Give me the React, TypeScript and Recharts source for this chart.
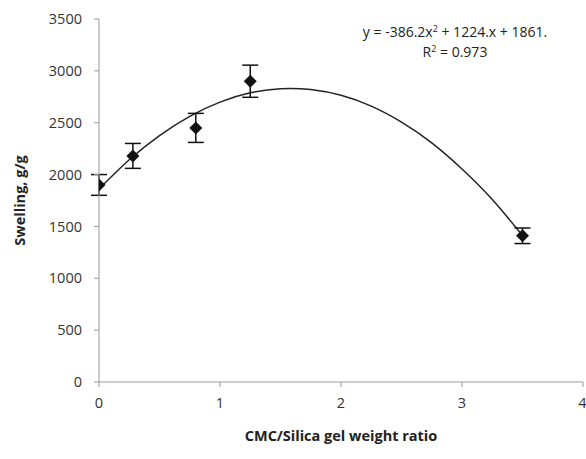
import React from 'react';
import { ComposedChart, Scatter, Line, XAxis, YAxis, ErrorBar, Label } from 'recharts';

const ratios = [0, 0.28, 0.8, 1.25, 3.5];
const swelling = [1900, 2180, 2450, 2900, 1410];
const errors = [100, 120, 140, 155, 75];

const trendX = [0, 0.25, 0.5, 0.75, 1, 1.25, 1.5, 1.75, 2, 2.25, 2.5, 2.75, 3, 3.25, 3.5];
const trendY = [1861, 2143, 2376, 2562, 2699, 2788, 2828, 2820, 2764, 2660, 2506, 2306, 2054, 1760, 1412];

const xTicks = [0, 1, 2, 3, 4];
const yTicks = [0, 500, 1000, 1500, 2000, 2500, 3000, 3500];

const points = ratios.map((x, i) => ({ x, y: swelling[i], err: errors[i] }));
const trend = trendX.map((x, i) => ({ x, y: trendY[i] }));

const FONT = '"Open Sans", "Liberation Sans", sans-serif';

const Diamond = (props: any) => {
  const { cx, cy } = props;
  const r = 6.5;
  return <path d={`M${cx},${cy - r}L${cx + r},${cy}L${cx},${cy + r}L${cx - r},${cy}Z`} fill="#111" />;
};

export default function App() {
  return (
    <div style={{ position: 'absolute', left: 0, top: 0, width: 586, height: 459, background: '#fff' }}>
      <ComposedChart width={586} height={459} margin={{ top: 19, right: 3, bottom: 47, left: 39 }}>
        <XAxis
          type="number"
          dataKey="x"
          domain={[0, 4]}
          ticks={xTicks}
          allowDataOverflow
          stroke="#999"
          tickSize={5}
          height={30}
          tick={{ fill: '#333', fontSize: 14.5, fontFamily: FONT }}
          tickMargin={11}
        >
          <Label value="CMC/Silica gel weight ratio" position="bottom" offset={19} style={{ fontWeight: 'bold', fontSize: 14.5, fill: '#222', fontFamily: FONT }} />
        </XAxis>
        <YAxis
          type="number"
          dataKey="y"
          domain={[0, 3500]}
          ticks={yTicks}
          stroke="#999"
          tickSize={5}
          width={60}
          tick={{ fill: '#333', fontSize: 14.5, fontFamily: FONT }}
          tickMargin={12}
        >
          <Label value="Swelling, g/g" angle={-90} position="insideLeft" offset={-19} style={{ fontWeight: 'bold', fontSize: 14.5, fill: '#222', fontFamily: FONT, textAnchor: 'middle' }} />
        </YAxis>
        <Line data={trend} dataKey="y" type="natural" stroke="#222" strokeWidth={1.5} dot={false} isAnimationActive={false} />
        <Scatter data={points} dataKey="y" shape={Diamond} isAnimationActive={false}>
          <ErrorBar dataKey="err" direction="y" width={8} stroke="#111" strokeWidth={1.5} />
        </Scatter>
        <text x={455} y={37} textAnchor="middle" fontSize={14} fill="#222" fontFamily={FONT}>
          y = -386.2x<tspan fontSize={9} dy={-5}>2</tspan><tspan dy={5}> + 1224.x + 1861.</tspan>
        </text>
        <text x={455} y={57} textAnchor="middle" fontSize={14} fill="#222" fontFamily={FONT}>
          R<tspan fontSize={9} dy={-5}>2</tspan><tspan dy={5}> = 0.973</tspan>
        </text>
      </ComposedChart>
    </div>
  );
}
